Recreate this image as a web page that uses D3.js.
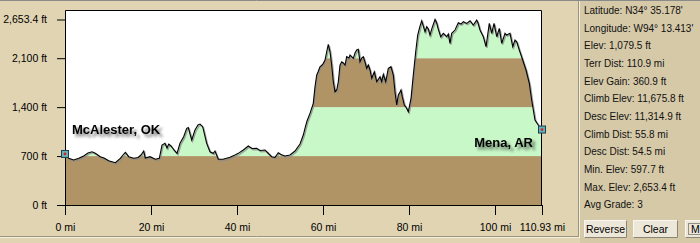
<!DOCTYPE html>
<html><head><meta charset="utf-8">
<script src="https://cdn.jsdelivr.net/npm/d3@7"></script>
<style>
html,body{margin:0;padding:0;background:#e1d4b3;overflow:hidden;}
svg{display:block;}
</style></head><body>
<svg id="c" width="700" height="243"></svg>
<script>
// ---- data ----
const miles = [0,0.86,2.02,3.19,4.35,5.35,6.28,7.05,8.21,9.07,10.16,11.7,12.86,13.49,14.02,14.81,15.98,16.98,17.67,18.3,18.67,19.77,21.0,21.93,22.56,23.26,23.72,24.12,24.65,25.35,26.05,26.74,27.6,28.3,28.67,29.47,30.23,30.93,31.4,32.02,32.95,33.72,34.49,34.88,35.65,36.74,38.37,39.53,40.3,41.47,42.63,43.49,44.58,45.35,46.51,47.21,48.07,48.84,49.6,50.23,51.16,52.33,53.49,54.65,55.42,55.81,56.28,56.98,57.74,58.14,58.53,58.84,59.3,59.77,60.07,60.47,60.86,61.23,61.63,62.02,62.4,62.79,63.19,63.56,63.95,64.35,64.72,65.12,65.51,66.05,66.28,67.05,67.44,67.84,68.21,68.6,69.0,69.37,69.77,70.16,70.53,70.93,71.33,71.93,72.49,73.26,73.65,74.02,74.58,75.19,75.81,76.35,76.74,77.14,77.51,77.91,78.14,78.44,78.91,79.3,79.84,80.47,81.0,81.56,82.02,82.56,82.95,83.26,83.72,84.12,84.49,84.88,85.35,86.05,86.44,86.74,87.37,87.98,88.77,89.14,89.53,89.93,90.7,91.47,92.09,92.63,93.42,94.19,94.95,95.74,96.05,96.51,97.28,97.91,98.67,99.23,99.77,100.4,101.0,101.56,102.33,102.72,103.49,104.12,104.65,105.05,105.65,106.44,107.21,107.98,108.53,108.91,109.3,110.07,110.93];
const elevFt = [730,668,644,668,701,744,762,739,691,672,633,605,668,715,754,691,668,679,715,772,672,691,654,668,858,882,815,872,844,787,739,882,977,1097,1108,930,1073,1144,1158,1120,882,762,739,772,654,654,682,715,739,787,844,808,811,779,787,744,691,682,748,722,701,715,772,872,1001,1097,1201,1311,1454,1692,1859,1902,1978,2002,2026,2074,2192,2298,2192,2002,1763,1620,1645,1763,2002,2049,2031,2002,2121,2102,2145,2098,2174,2217,2227,2049,2102,2121,2045,1955,2002,1931,1812,1906,1763,1835,1763,1869,1763,1955,1978,1859,1620,1430,1573,1616,1645,1549,1430,1401,1334,1526,1859,2192,2431,2560,2635,2574,2478,2550,2517,2431,2531,2653.4,2603,2531,2407,2455,2407,2445,2312,2455,2503,2607,2588,2621,2598,2635,2574,2645,2603,2503,2407,2264,2598,2455,2598,2407,2527,2312,2455,2431,2455,2264,2360,2335,2217,2074,1931,1740,1502,1359,1216,1144,1079.5];
const bandEdges = [0,700,1400,2100,2653.4];
const bandColors = ["#b09466","#c8f7c8","#b09466","#c8f7c8"];
const yTicks = [0,700,1400,2100,2653.4];
const yTickLabels = ["0 ft","700 ft","1,400 ft","2,100 ft","2,653.4 ft"];
const xTicks = [0,20,40,60,80,100,110.93];
const xTickLabels = ["0 mi","20 mi","40 mi","60 mi","80 mi","100 mi","110.93 mi"];
const startLabel = "McAlester, OK";
const endLabel = "Mena, AR";
const statLabels = ["Latitude: N34\u00b0 35.178'","Longitude: W94\u00b0 13.413'","Elev: 1,079.5 ft","Terr Dist: 110.9 mi","Elev Gain: 360.9 ft","Climb Elev: 11,675.8 ft","Desc Elev: 11,314.9 ft","Climb Dist: 55.8 mi","Desc Dist: 54.5 mi","Min. Elev: 597.7 ft","Max. Elev: 2,653.4 ft","Avg Grade: 3"];
const buttonLabels = ["Reverse","Clear","M"];

// ---- drawing ----
const svg = d3.select("#c");
const FONT = "'Liberation Sans', Arial, sans-serif";
const L = 65, R = 542, T = 10, B = 205;
const x = d3.scaleLinear().domain([0, 110.93]).range([L, R]);
const y = d3.scaleLinear().domain([0, 2653.4]).range([B, 19.5]);

const defs = svg.append("defs");
const f = defs.append("filter").attr("id","sh").attr("x","-20%").attr("y","-50%").attr("width","150%").attr("height","220%");
f.append("feGaussianBlur").attr("in","SourceAlpha").attr("stdDeviation",1.6).attr("result","b");
f.append("feOffset").attr("in","b").attr("dx",3).attr("dy",3).attr("result","o");
f.append("feComponentTransfer").attr("in","o").attr("result","o2").append("feFuncA").attr("type","linear").attr("slope",0.55);
const fm = f.append("feMerge"); fm.append("feMergeNode").attr("in","o2"); fm.append("feMergeNode").attr("in","SourceGraphic");

// panels
svg.append("rect").attr("x",0).attr("y",0).attr("width",700).attr("height",243).attr("fill","#e1d4b3");
svg.append("rect").attr("x",580).attr("y",0).attr("width",120).attr("height",243).attr("fill","#d6c9a8");
svg.append("line").attr("x1",0).attr("x2",700).attr("y1",0.5).attr("y2",0.5).attr("stroke","#8a8a8a");
svg.append("line").attr("x1",578.5).attr("x2",578.5).attr("y1",1).attr("y2",238).attr("stroke","#9c9480");
svg.append("line").attr("x1",579.5).attr("x2",579.5).attr("y1",1).attr("y2",238).attr("stroke","#f4eedc");
svg.append("line").attr("x1",0).attr("x2",579).attr("y1",236.5).attr("y2",236.5).attr("stroke","#9c9480");
svg.append("line").attr("x1",0).attr("x2",579).attr("y1",237.5).attr("y2",237.5).attr("stroke","#f4eedc");

// plot bg
svg.append("rect").attr("x",L).attr("y",T).attr("width",R-L).attr("height",B-T).attr("fill","#ffffff");

const data = miles.map((m,i)=>({m, e: elevFt[i]}));
const area = d3.area().x(d=>x(d.m)).y0(y(0)).y1(d=>y(d.e));
defs.append("clipPath").attr("id","ac").append("path").attr("d", area(data));

const bands = svg.append("g").attr("clip-path","url(#ac)");
bandColors.forEach((c,i)=>{
  const top = i === bandColors.length-1 ? T : y(bandEdges[i+1]);
  bands.append("rect").attr("x",L).attr("width",R-L)
    .attr("y",top).attr("height",y(bandEdges[i]) - top).attr("fill",c);
});

const line = d3.line().x(d=>x(d.m)).y(d=>y(d.e));
svg.append("path").attr("d",line(data)).attr("fill","none").attr("stroke","#8c8c8c")
  .attr("stroke-width",1.4).attr("transform","translate(1,1.2)").attr("opacity",0.8);
svg.append("path").attr("d",line(data)).attr("fill","none").attr("stroke","#000").attr("stroke-width",1.1);

// frame
svg.append("path").attr("d",`M${L+0.5},${B}V${T+0.5}H${R-0.5}V${B}`).attr("fill","none").attr("stroke","#000");

// axes
const ya = svg.append("g").attr("transform",`translate(${L},0)`)
  .call(d3.axisLeft(y).tickValues(yTicks).tickFormat((d,i)=>yTickLabels[i]).tickSize(8).tickPadding(10));
ya.select(".domain").remove();
const xa = svg.append("g").attr("transform",`translate(0,${B})`)
  .call(d3.axisBottom(x).tickValues(xTicks).tickFormat((d,i)=>xTickLabels[i]).tickSize(10).tickPadding(9));
xa.select(".domain").attr("d",`M${L},0.5H${R}`).attr("stroke","#000");
svg.selectAll(".tick text").attr("font-family",FONT).attr("font-size",10.5).attr("fill","#000");
svg.selectAll(".tick line").attr("stroke","#000");

// markers
[[data[0]],[data[data.length-1]]].forEach(([d])=>{
  const g = svg.append("g").attr("transform",`translate(${x(d.m)},${y(d.e)})`);
  g.append("rect").attr("x",-3.5).attr("y",-3.5).attr("width",7).attr("height",7).attr("fill","#5fb3b8").attr("stroke","#1f3f4f").attr("stroke-width",1);
  g.append("circle").attr("r",1.4).attr("fill","#e02020");
});

// place labels
svg.append("text").attr("x",72).attr("y",134).text(startLabel)
  .attr("font-family",FONT).attr("font-weight","bold").attr("font-size",13).attr("fill","#000").attr("filter","url(#sh)");
svg.append("text").attr("x",533).attr("y",147).attr("text-anchor","end").text(endLabel)
  .attr("font-family",FONT).attr("font-weight","bold").attr("font-size",13).attr("fill","#000").attr("filter","url(#sh)");

// stats
svg.append("g").selectAll("text").data(statLabels).join("text")
  .attr("x",584).attr("y",(d,i)=>14 + i*17.66).text(d=>d)
  .attr("font-family",FONT).attr("font-size",10).attr("fill","#111");

// buttons
const bx = [584, 633, 685], bw = [43, 45, 45];
buttonLabels.forEach((lab,i)=>{
  const g = svg.append("g").attr("transform",`translate(${bx[i]},220)`);
  g.append("rect").attr("x",0.5).attr("y",0.5).attr("width",bw[i]-1).attr("height",17).attr("fill","#ece7d8").attr("stroke","#f8f6ee");
  g.append("path").attr("d",`M0.5,17.5H${bw[i]-0.5}V0.5`).attr("fill","none").attr("stroke","#8a8474");
  if (i === 2) g.append("rect").attr("x",3.5).attr("y",3.5).attr("width",bw[i]-7).attr("height",11).attr("fill","none").attr("stroke","#333").attr("stroke-dasharray","1,1");
  g.append("text").attr("x", i===2 ? 6 : bw[i]/2).attr("y",12.5).attr("text-anchor", i===2 ? "start" : "middle")
    .text(lab).attr("font-family",FONT).attr("font-size",10.5).attr("fill","#000");
});
</script>
</body></html>
